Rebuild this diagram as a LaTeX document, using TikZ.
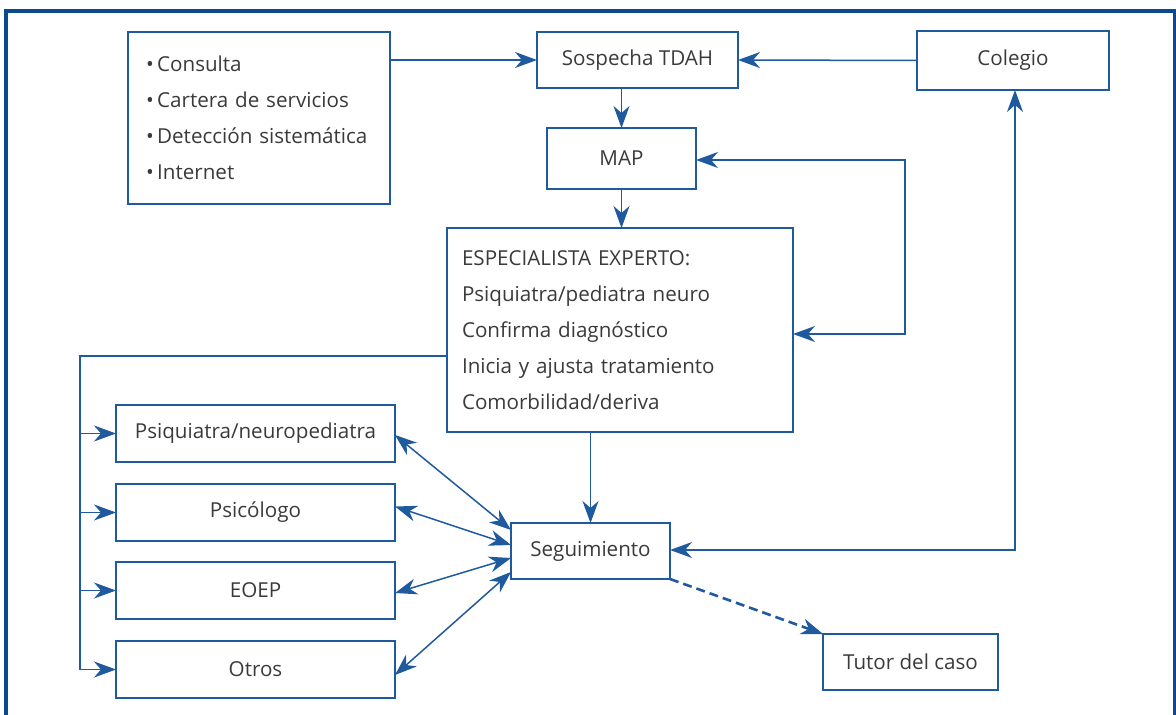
\documentclass[tikz,border=0pt]{standalone}
\usepackage{fontspec}
\setmainfont{Open Sans}
\usetikzlibrary{arrows.meta, calc, positioning}
\definecolor{azul}{HTML}{1F5A9E}
\definecolor{marco}{HTML}{0B4A92}
\definecolor{texto}{HTML}{3A3A3A}

\begin{document}
\begin{tikzpicture}[x=0.5pt, y=-0.5pt,% one unit = one pixel of the layout
         > = {Stealth[length=11pt, width=8pt, inset=3.5pt]}, % defined in "arrows.meta"
caja/.style = {draw=azul, line width=0.75pt, text=texto,
               font=\fontsize{10.3}{18}\selectfont,
               inner sep=0pt, outer sep=0pt},
lista/.style = {caja, align=left, inner xsep=9pt,
                text width=#1, anchor=center},
flecha/.style = {azul, line width=0.75pt},
trazos/.style = {azul, line width=1.3pt, dash pattern=on 4.5pt off 2.5pt}
                   ]
	\useasboundingbox (0,0) rectangle (1176,715);
	% frame, open at the bottom
	\draw[marco, line width=1.6pt] (6,715) -- (6,11) -- (1175,11) -- (1175,715);

	% top row
	\node[lista=113pt, minimum width=131pt, minimum height=86pt] (fuentes) at (259,118)
	     {\textbullet\,Consulta\\ \textbullet\,Cartera de servicios\\
	      \textbullet\,Detección sistemática\\ \textbullet\,Internet};
	\node[caja, minimum width=100.5pt, minimum height=28pt] (sospecha) at (637.5,60) {Sospecha TDAH};
	\node[caja, minimum width=96pt, minimum height=29.5pt] (colegio) at (1013,60.5) {Colegio};
	\node[caja, minimum width=74.5pt, minimum height=30.5pt] (map) at (621.5,158.5) {MAP};
	\node[lista=158pt, minimum width=173pt, minimum height=102pt, inner xsep=7.5pt] (experto) at (620,330)
	     {ESPECIALISTA EXPERTO:\\ Psiquiatra/pediatra neuro\\ Confirma diagnóstico\\
	      Inicia y ajusta tratamiento\\ Comorbilidad/deriva};

	% left column and follow-up
	\foreach \n/\y/\t in {psiq/433.5/Psiquiatra\slash neuropediatra,
	                      psico/512.5/Psicólogo, eoep/590.5/EOEP, otros/669.5/Otros}
		\node[caja, minimum width=139.5pt, minimum height=28.5pt] (\n) at (255.5,\y) {\t};
	\node[caja, minimum width=79.5pt, minimum height=28pt] (segui) at (590.5,551) {Seguimiento};
	\node[caja, minimum width=87.5pt, minimum height=28pt] (tutor) at (910.5,662) {Tutor del caso};

	\coordinate (bus)   at (80,356);
	\coordinate (lazoA) at (905,160);
	\coordinate (lazoB) at (905,334);
	\coordinate (esq)   at (1015,550);

	% connectors
	\draw[flecha,->] (fuentes.east |- sospecha.west) -- (sospecha.west);
	\draw[flecha,->] (colegio.west) -- (sospecha.east);
	\draw[flecha,->] (sospecha.south -| map) -- (map.north);
	\draw[flecha,->] (map.south) -- (map.south |- experto.north);
	\draw[flecha,<->] (lazoA -| map.east) -- (lazoA) -- (lazoB) -- (lazoB -| experto.east);
	\draw[flecha,->] (experto.south -| segui) -- (segui.north);
	\draw[flecha,<->] (colegio.south -| esq) -- (esq) -- (esq -| segui.east);

	\draw[flecha] (bus -| experto.west) -- (bus) -- (bus |- otros.west);
	\foreach \n in {psiq, psico, eoep, otros}
		\draw[flecha,->] (bus |- \n.west) -- (\n.west);

	\draw[flecha,<->] ([yshift=-0.75pt]psiq.east)  -- ([yshift=10.5pt]segui.west);
	\draw[flecha,<->] ([yshift=3pt]psico.east)     -- ([yshift=3pt]segui.west);
	\draw[flecha,<->] ([yshift=-1.25pt]eoep.east)  -- ([yshift=-3.5pt]segui.west);
	\draw[flecha,<->] ([yshift=-2.75pt]otros.east) -- ([yshift=-10.5pt]segui.west);

	\draw[trazos,->] (segui.south east) -- (tutor.north west);
\end{tikzpicture}
\end{document}
